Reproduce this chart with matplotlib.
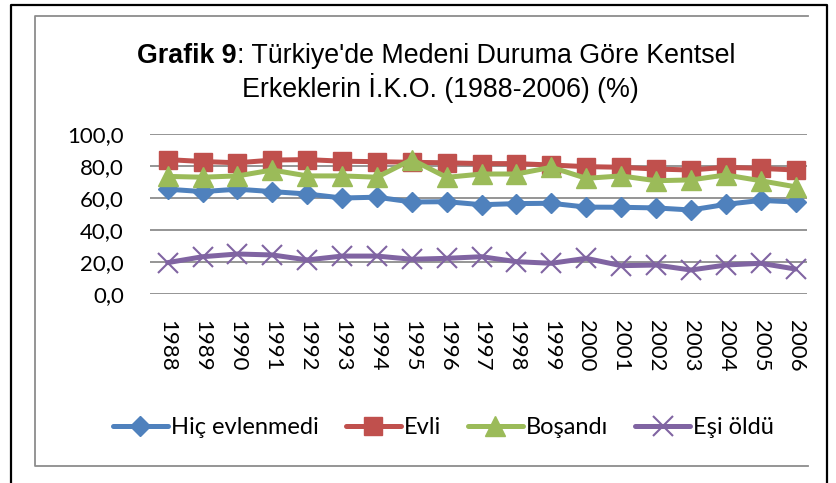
import numpy as np
import matplotlib
matplotlib.use("Agg")
import matplotlib.pyplot as plt
from matplotlib.lines import Line2D

# ── Data ──────────────────────────────────────────────────────────────────────
years = [str(y) for y in range(1988, 2007)]

hic_evlenmedi = [65.5, 64.0, 65.5, 64.0, 62.5, 60.0, 60.5, 57.5, 57.7, 55.8,
                 56.5, 56.7, 54.3, 54.2, 53.8, 52.5, 56.0, 58.5, 57.5]
evli          = [84.0, 82.8, 82.0, 83.7, 84.0, 83.0, 82.7, 82.3, 82.0, 81.5,
                 81.5, 80.6, 79.6, 79.2, 78.1, 77.5, 79.2, 78.5, 77.5]
bosandi       = [73.5, 73.0, 73.8, 77.5, 73.8, 73.8, 73.0, 84.0, 72.9, 75.0,
                 75.0, 79.2, 72.3, 73.8, 70.8, 71.3, 74.4, 70.8, 67.0]
esi_oldu      = [19.6, 23.3, 25.0, 24.4, 21.3, 23.7, 23.7, 21.7, 22.3, 23.3,
                 20.2, 19.2, 22.3, 17.7, 18.1, 15.0, 18.1, 19.2, 15.6]

series_names = ["Hiç evlenmedi", "Evli", "Boşandı", "Eşi öldü"]
yticks = [0, 20, 40, 60, 80, 100]

# ── Figure ────────────────────────────────────────────────────────────────────
W, H = 836, 483
fig = plt.figure(figsize=(W / 100, H / 100), dpi=100)
fig.patch.set_facecolor("white")

def fx(x):
    return x / W

def fy(y):
    return 1 - y / H

# outer black frame + inner grey chart frame
fig.add_artist(Line2D([fx(11), fx(11), fx(827), fx(827)], [0, fy(5), fy(5), 0],
                      transform=fig.transFigure, color="black", lw=1.6))
fig.add_artist(Line2D([fx(808), fx(35), fx(35), fx(808)],
                      [fy(16), fy(16), fy(466), fy(466)],
                      transform=fig.transFigure, color="#8c8c8c", lw=1.3))

ax = fig.add_axes([fx(150.2), fy(294), (813 - 150.2) / W, 160 / H])
x = np.arange(len(years))

# gridlines (stop at the chart frame edge)
ax.hlines(yticks, -0.5, 18.33, color="#8c8c8c", lw=1.3, zorder=1)

lw = 3.6
ax.plot(x, hic_evlenmedi, color="#4F81BD", lw=lw, marker="D", ms=9.8,
        solid_capstyle="round", label=series_names[0], zorder=3, clip_on=False)
ax.plot(x, evli, color="#C0504D", lw=lw, marker="s", ms=13.5,
        solid_capstyle="round", label=series_names[1], zorder=2, clip_on=False)
ax.plot(x, bosandi, color="#9BBB59", lw=lw, marker="^", ms=14,
        solid_capstyle="round", label=series_names[2], zorder=4, clip_on=False)
ax.plot(x, esi_oldu, color="#8064A2", lw=lw, marker="x", ms=14, mew=1.5,
        solid_capstyle="round", label=series_names[3], zorder=3, clip_on=False)

tick_fs = 16
ax.set_xlim(-0.5, 18.5)
ax.set_ylim(0, 100)
ax.set_yticks(yticks)
ax.set_yticklabels([f"{v:.1f}".replace(".", ",") for v in yticks],
                   fontfamily="Lato", fontsize=tick_fs)
ax.set_xticks(x)
ax.set_xticklabels(years, rotation=270, fontfamily="Lato", fontsize=tick_fs)
ax.tick_params(axis="y", length=0, pad=19)
ax.tick_params(axis="x", length=0, pad=19)
for s in ax.spines.values():
    s.set_visible(False)

# ── Title: bold "Grafik 9" followed by regular text ───────────────────────────
tfont = dict(fontfamily="Liberation Sans", fontsize=19.3)
t1 = fig.text(fx(137), fy(63), "Grafik 9", fontweight="bold", ha="left",
              va="baseline", **tfont)
ax.annotate(": Türkiye'de Medeni Duruma Göre Kentsel", xy=(1, 0),
            xycoords=t1, ha="left", va="bottom", annotation_clip=False, **tfont)
fig.text(fx(440), fy(97), "Erkeklerin İ.K.O. (1988-2006) (%)", ha="center",
         va="baseline", **tfont)

# ── Legend ────────────────────────────────────────────────────────────────────
handles, labels = ax.get_legend_handles_labels()
fig.legend(handles, labels, loc="center", bbox_to_anchor=(fx(443.5), fy(428)),
           ncol=4, frameon=False, numpoints=1, handlelength=2.33,
           handletextpad=0.13, columnspacing=1.14,
           prop={"family": "Lato", "size": 17})

plt.savefig("out.png", dpi=100)
